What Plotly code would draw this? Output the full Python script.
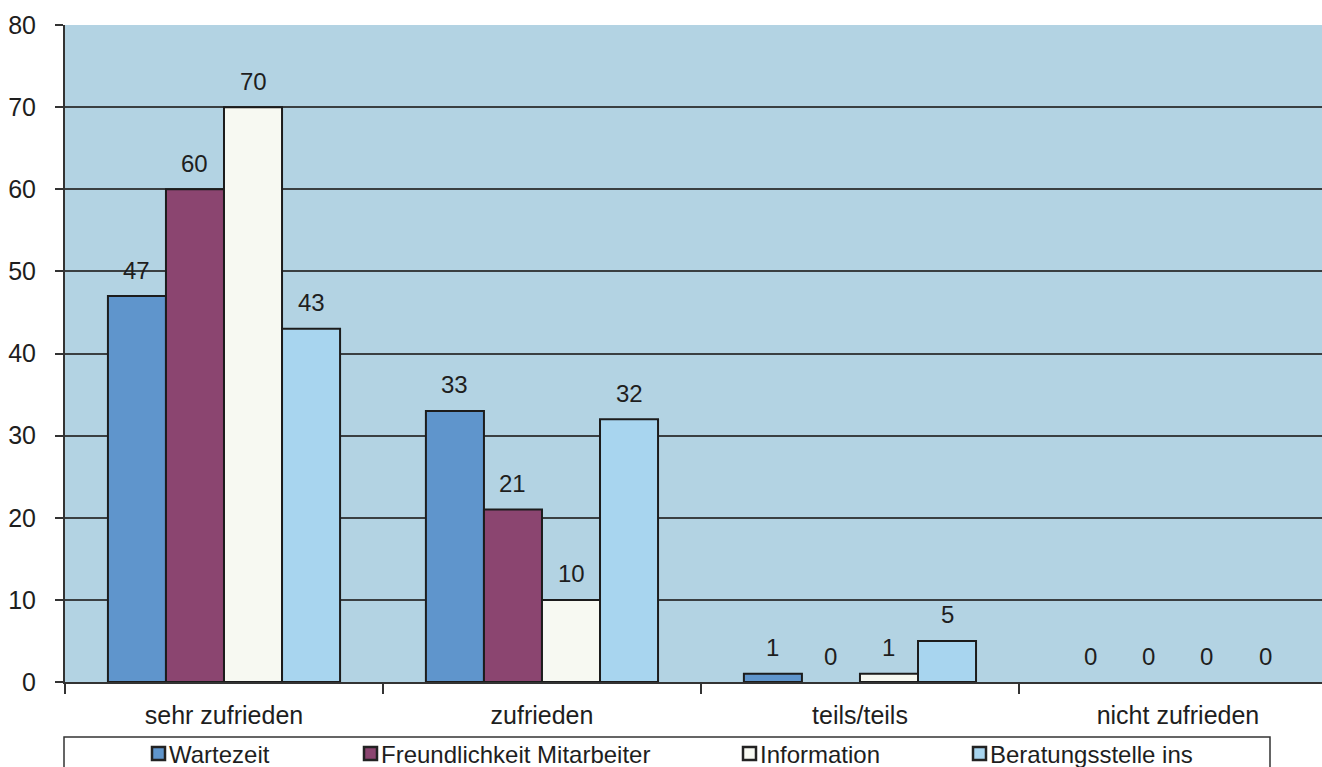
import plotly.graph_objects as go

# Survey answers per satisfaction level
categories = ["sehr zufrieden", "zufrieden", "teils/teils", "nicht zufrieden"]
series_names = ["Wartezeit", "Freundlichkeit Mitarbeiter", "Information", "Beratungsstelle ins"]
wartezeit = [47, 33, 1, 0]
freundlichkeit = [60, 21, 0, 0]
information = [70, 10, 1, 0]
beratungsstelle = [43, 32, 5, 0]
y_ticks = [0, 10, 20, 30, 40, 50, 60, 70, 80]

series_values = [wartezeit, freundlichkeit, information, beratungsstelle]
colors = ["#5f95cc", "#8b4570", "#f7f9f2", "#a8d5ef"]

FONT = "Liberation Sans, Arial, sans-serif"
TEXT = "#1e1e1e"
BARGAP = 0.27

fig = go.Figure()
for name, vals, col in zip(series_names, series_values, colors):
    fig.add_trace(go.Bar(
        x=categories, y=vals, name=name,
        marker=dict(color=col,
                    line=dict(color="#1c1c1c",
                              width=[2 if v > 0 else 0 for v in vals])),
        showlegend=False,
    ))

# Value labels above each bar
n = len(series_values)
bw = (1 - BARGAP) / n
for j, vals in enumerate(series_values):
    for i, v in enumerate(vals):
        fig.add_annotation(
            x=i + (j - (n - 1) / 2) * bw, y=v, xref="x", yref="y",
            text=str(v), showarrow=False, yanchor="middle", yshift=26,
            font=dict(family=FONT, size=24, color=TEXT),
        )

# Legend box drawn below the axis
W, H = 1322, 767
ML, MR, MT, MB = 65, 0, 25, 85
pw, ph = W - ML - MR, H - MT - MB


def px_x(px):
    return (px - ML) / pw


def px_y(py):
    return (H - MB - py) / ph


fig.add_shape(type="rect", xref="paper", yref="paper",
              x0=px_x(64), x1=px_x(1270), y0=px_y(800), y1=px_y(737),
              line=dict(color="#333333", width=1.5), fillcolor="white", layer="above")
legend_x = [151, 363, 742, 972]
for name, col, lx in zip(series_names, colors, legend_x):
    fig.add_shape(type="rect", xref="paper", yref="paper",
                  x0=px_x(lx + 1), x1=px_x(lx + 14), y0=px_y(760), y1=px_y(747),
                  line=dict(color="#222222", width=2.5), fillcolor=col, layer="above")
    fig.add_annotation(x=px_x(lx + 16), y=px_y(754), xref="paper", yref="paper",
                       text=name, showarrow=False, xanchor="left", yanchor="middle",
                       font=dict(family=FONT, size=24, color=TEXT))

fig.update_layout(
    width=W, height=H,
    margin=dict(l=ML, r=MR, t=MT, b=MB),
    paper_bgcolor="white",
    plot_bgcolor="#b3d3e3",
    barmode="group", bargap=BARGAP, bargroupgap=0,
    font=dict(family=FONT, color=TEXT),
    xaxis=dict(
        type="category", range=[-0.5, 3.453],
        tickson="boundaries", ticks="outside", ticklen=10, tickcolor="#333333",
        tickwidth=1.5, showline=True, linecolor="#333333", linewidth=1.5,
        tickfont=dict(family=FONT, size=25, color=TEXT), ticklabelstandoff=10,
        showgrid=False,
    ),
    yaxis=dict(
        range=[0, 80], tickvals=y_ticks, ticks="outside", ticklen=8,
        tickcolor="#333333", tickwidth=1.5,
        showline=True, linecolor="#333333", linewidth=2,
        showgrid=True, gridcolor="#3a3f42", gridwidth=1.5,
        zeroline=False,
        tickfont=dict(family=FONT, size=25, color=TEXT), ticklabelstandoff=14,
    ),
)

fig.write_html("out.html")
